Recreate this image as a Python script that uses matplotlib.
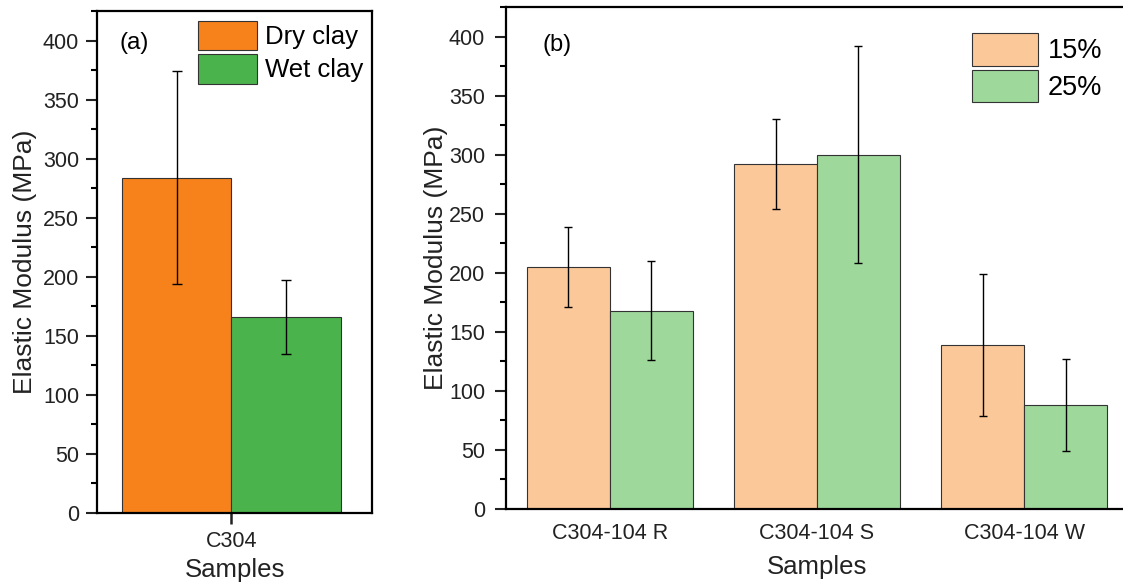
import numpy as np
import matplotlib
matplotlib.use("Agg")
import matplotlib.pyplot as plt
from matplotlib.ticker import MultipleLocator

plt.rcParams['font.family'] = ['Liberation Sans', 'DejaVu Sans']

# panel (a): dry vs wet clay
a_samples = ['C304']
a_series = ['Dry clay', 'Wet clay']
a_means = [284, 166]
a_errs = [90, 31]
a_colors = ['#F7821B', '#4BB34B']

# panel (b): 15% vs 25%
b_samples = ['C304-104 R', 'C304-104 S', 'C304-104 W']
b_series = ['15%', '25%']
b_15 = [205, 292, 139]
b_15_err = [34, 38, 60]
b_25 = [168, 300, 88]
b_25_err = [42, 92, 39]
b_colors = ['#FBC899', '#9ED89B']

W, H = 1123, 583
fig = plt.figure(figsize=(W / 100, H / 100), dpi=100)

ax1 = fig.add_axes([97.3 / W, (H - 513) / H, 274.7 / W, 502 / H])
ax2 = fig.add_axes([506 / W, (H - 509) / H, 622 / W, 502 / H])

bw = 0.4
edge = dict(edgecolor='#333333', linewidth=0.8)
err_kw = dict(ecolor='black', elinewidth=1.0, capthick=1.0)

# --- (a)
x = np.arange(len(a_samples))
for i, (m, e, c, lab) in enumerate(zip(a_means, a_errs, a_colors, a_series)):
    ax1.bar(x + (i - 0.5) * bw, [m], bw, yerr=[e], color=c, label=lab,
            capsize=3.5, error_kw=err_kw, **edge)
ax1.set_xlim(-0.49, 0.515)
ax1.set_xticks(x)
ax1.set_xticklabels(a_samples)
ax1.text(0.079, 0.937, '(a)', transform=ax1.transAxes, fontsize=17.5,
         ha='left', va='center')
ax1.legend(loc='upper left', bbox_to_anchor=(0.366, 0.98), frameon=False,
           fontsize=18.5, handlelength=2.3, handleheight=1.38,
           labelspacing=0.15, handletextpad=0.3, borderpad=0, borderaxespad=0)

# --- (b)
x = np.arange(len(b_samples))
ax2.bar(x - bw / 2, b_15, bw, yerr=b_15_err, color=b_colors[0], label=b_series[0],
        capsize=3, error_kw=err_kw, **edge)
ax2.bar(x + bw / 2, b_25, bw, yerr=b_25_err, color=b_colors[1], label=b_series[1],
        capsize=3, error_kw=err_kw, **edge)
ax2.set_xlim(-0.5, 2.5)
ax2.set_xticks(x)
ax2.set_xticklabels(b_samples)
ax2.text(0.058, 0.924, '(b)', transform=ax2.transAxes, fontsize=17,
         ha='left', va='center')
ax2.legend(loc='upper left', bbox_to_anchor=(0.749, 0.948), frameon=False,
           fontsize=19.5, handlelength=2.45, handleheight=1.47,
           labelspacing=0.15, handletextpad=0.35, borderpad=0, borderaxespad=0)

for ax in (ax1, ax2):
    ax.set_ylim(0, 425)
    ax.yaxis.set_major_locator(MultipleLocator(50))
    ax.yaxis.set_minor_locator(MultipleLocator(25))
    ax.tick_params(axis='y', which='major', direction='out', length=8, width=1.5,
                   labelsize=15.5, pad=5, colors='#222222')
    ax.tick_params(axis='y', which='minor', direction='out', length=4, width=1.5)
    ax.set_xlabel('Samples', fontsize=18.5, color='#222222', labelpad=4)
    for s in ax.spines.values():
        s.set_linewidth(1.6)
        s.set_color('black')

ax1.set_ylabel('Elastic Modulus (MPa)', fontsize=19, color='#222222', labelpad=4)
ax2.set_ylabel('Elastic Modulus (MPa)', fontsize=19, color='#222222', labelpad=1)
ax2.xaxis.labelpad = 8

ax1.tick_params(axis='x', direction='out', length=8, width=1.8, labelsize=15.5,
                pad=5, colors='#222222')
ax2.tick_params(axis='x', length=0, labelsize=15.5, pad=10, colors='#222222')
ax2.tick_params(axis='y', pad=7)

fig.savefig('out.png', dpi=100)
